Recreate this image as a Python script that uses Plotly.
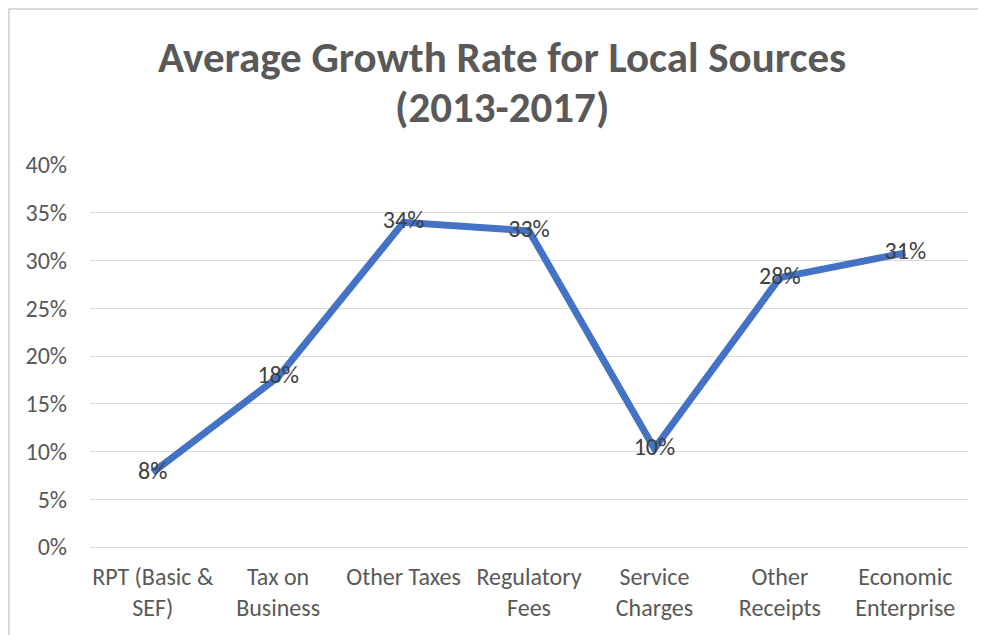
import plotly.graph_objects as go

categories = ["RPT (Basic &<br>SEF)", "Tax on<br>Business", "Other Taxes", "Regulatory<br>Fees",
              "Service<br>Charges", "Other<br>Receipts", "Economic<br>Enterprise"]
growth = [0.078, 0.178, 0.340, 0.331, 0.103, 0.282, 0.308]
labels = ["8%", "18%", "34%", "33%", "10%", "28%", "31%"]
yticks = [0, 0.05, 0.10, 0.15, 0.20, 0.25, 0.30, 0.35, 0.40]
ytick_text = ["0%", "5%", "10%", "15%", "20%", "25%", "30%", "35%", "40%"]

FONT = "Carlito, Lato, sans-serif"

fig = go.Figure()
fig.add_trace(go.Scatter(
    x=categories, y=growth, mode="lines+text",
    line=dict(color="#4472C4", width=7),
    text=labels, textposition="middle center",
    textfont=dict(family=FONT, size=24, color="#404040"),
    hoverinfo="skip", showlegend=False, cliponaxis=False,
))

x0 = -81 / 878
x1 = 1 + 60 / 878
y0 = -120 / 382
y1 = 1 + 156 / 382
border_path = f"M {x0} {y0} L {x0} {y1} L {x1} {y1}"

fig.update_layout(
    width=978, height=627,
    margin=dict(l=82, r=18, t=157, b=88),
    paper_bgcolor="white", plot_bgcolor="white",
    xaxis=dict(type="category", showgrid=False, showline=True, linecolor="#D9D9D9", linewidth=1,
               ticks="", tickfont=dict(family=FONT, size=24, color="#595959"),
               ticklabelstandoff=8, range=[-0.5, 6.5], zeroline=False),
    yaxis=dict(range=[0, 0.40], tickvals=yticks, ticktext=ytick_text,
               showgrid=True, gridcolor="#D9D9D9", gridwidth=1, zeroline=False,
               showline=False, ticks="", tickfont=dict(family=FONT, size=24, color="#595959"),
               ticklabelstandoff=22),
    annotations=[
        dict(text="<b>Average Growth Rate for Local Sources</b>", xref="paper", yref="paper",
             x=0.469, y=1.0, yshift=108, showarrow=False, xanchor="center", yanchor="middle",
             font=dict(family=FONT, size=43, color="#595959")),
        dict(text="<b>(2013-2017)</b>", xref="paper", yref="paper",
             x=0.469, y=1.0, yshift=58, showarrow=False, xanchor="center", yanchor="middle",
             font=dict(family=FONT, size=43, color="#595959")),
    ],
    shapes=[dict(type="path", xref="paper", yref="paper", path=border_path,
                 line=dict(color="#D9D9D9", width=2), layer="below")],
)

fig.write_html("out.html")
